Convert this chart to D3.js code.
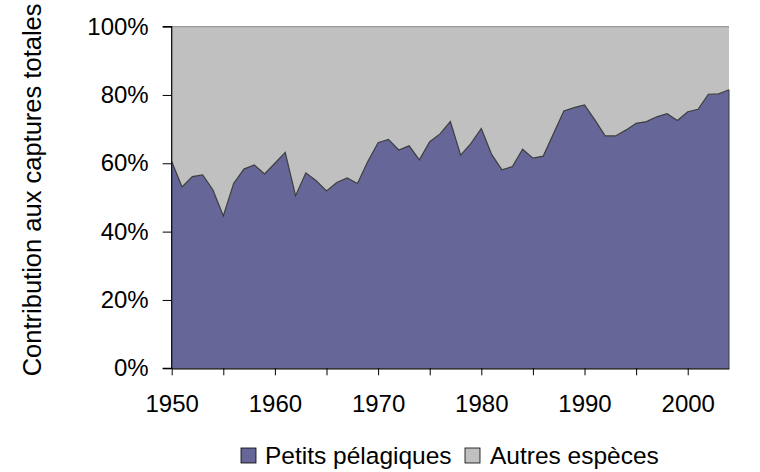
<!DOCTYPE html>
<html>
<head>
<meta charset="utf-8">
<script src="https://cdn.jsdelivr.net/npm/d3@7"></script>
<style>
  html, body { margin: 0; padding: 0; background: #fff; }
  svg { display: block; }
  text { font-family: "Liberation Sans", Arial, sans-serif; fill: #000; }
</style>
</head>
<body>
<svg id="chart" width="760" height="472"></svg>
<script>
const years = [1950,1951,1952,1953,1954,1955,1956,1957,1958,1959,
  1960,1961,1962,1963,1964,1965,1966,1967,1968,1969,
  1970,1971,1972,1973,1974,1975,1976,1977,1978,1979,
  1980,1981,1982,1983,1984,1985,1986,1987,1988,1989,
  1990,1991,1992,1993,1994,1995,1996,1997,1998,1999,
  2000,2001,2002,2003,2004];
const petitsPelagiques = [60.5,53.1,56.1,56.6,52.2,44.6,54.1,58.3,59.5,56.9,
  60.0,63.2,50.5,57.2,54.9,51.9,54.4,55.7,54.1,60.5,
  66.0,67.0,63.9,65.1,61.0,66.3,68.6,72.2,62.4,65.8,
  70.2,62.6,58.1,59.0,64.1,61.5,62.1,68.7,75.3,76.3,
  77.1,72.7,68.0,68.0,69.7,71.7,72.2,73.6,74.5,72.5,
  75.1,75.8,80.2,80.3,81.5];
const autresEspeces = [39.5,46.9,43.9,43.4,47.8,55.4,45.9,41.7,40.5,43.1,
  40.0,36.8,49.5,42.8,45.1,48.1,45.6,44.3,45.9,39.5,
  34.0,33.0,36.1,34.9,39.0,33.7,31.4,27.8,37.6,34.2,
  29.8,37.4,41.9,41.0,35.9,38.5,37.9,31.3,24.7,23.7,
  22.9,27.3,32.0,32.0,30.3,28.3,27.8,26.4,25.5,27.5,
  24.9,24.2,19.8,19.7,18.5];
const seriesNames = ["Petits pélagiques", "Autres espèces"];
const seriesColors = ["#666699", "#C0C0C0"];
const yTicks = [0, 20, 40, 60, 80, 100];
const xTickYears = [1950,1955,1960,1965,1970,1975,1980,1985,1990,1995,2000];
const xLabelYears = [1950,1960,1970,1980,1990,2000];
const yTitle = "Contribution aux captures totales";

const svg = d3.select("#chart");
const x = d3.scaleLinear().domain([1950, 2004]).range([171.7, 729]);
const y = d3.scaleLinear().domain([0, 100]).range([368.3, 26.6]);

const table = years.map((yr, i) => ({year: yr, p: petitsPelagiques[i], a: autresEspeces[i]}));
const stack = d3.stack().keys(["p", "a"]);
const stacked = stack(table);

const area = d3.area()
  .x(d => x(d.data.year))
  .y0(d => y(d[0]))
  .y1(d => y(d[1]));

svg.selectAll("path.area")
  .data(stacked)
  .join("path")
  .attr("class", "area")
  .attr("d", area)
  .attr("fill", (d, i) => seriesColors[i])
  .attr("stroke", "none");

// series top edges
const line = d3.line().x(d => x(d.data.year)).y(d => y(d[1]));
svg.append("path")
  .attr("d", line(stacked[0]))
  .attr("fill", "none")
  .attr("stroke", "#3c3c3c")
  .attr("stroke-width", 1.2);
svg.append("path")
  .attr("d", line(stacked[1]))
  .attr("fill", "none")
  .attr("stroke", "#9a9a9a")
  .attr("stroke-width", 1.2);
// right edge of purple area
svg.append("line")
  .attr("x1", x(2004)).attr("x2", x(2004))
  .attr("y1", y(0)).attr("y2", y(petitsPelagiques[petitsPelagiques.length - 1]))
  .attr("stroke", "#3c3c3c").attr("stroke-width", 1);

// Y axis
const yAxis = d3.axisLeft(y)
  .tickValues(yTicks)
  .tickSize(9)
  .tickPadding(14)
  .tickFormat(d => d + "%");
const gy = svg.append("g").attr("transform", `translate(${x(1950)},0)`).call(yAxis);
gy.select(".domain").attr("stroke", "#000").attr("stroke-width", 1.2);
gy.selectAll(".tick line").attr("stroke", "#000");
gy.selectAll(".tick text")
  .style("font-family", "'Liberation Sans', Arial, sans-serif")
  .style("font-size", "24px")
  .attr("fill", "#000");
gy.select(".domain").attr("d", `M-9,${y(100)}H0V${y(0)}H-9`);

// X axis
const xAxis = d3.axisBottom(x)
  .tickValues(xTickYears)
  .tickSize(7)
  .tickSizeOuter(0)
  .tickPadding(20)
  .tickFormat(d => xLabelYears.includes(d) ? String(d) : "");
const gx = svg.append("g").attr("transform", `translate(0,${y(0)})`).call(xAxis);
gx.select(".domain").attr("stroke", "#000").attr("stroke-width", 1.2);
gx.selectAll(".tick line").attr("stroke", "#000");
gx.selectAll(".tick text")
  .style("font-family", "'Liberation Sans', Arial, sans-serif")
  .style("font-size", "24px")
  .attr("fill", "#000");

// Y title
svg.append("text")
  .attr("transform", `translate(41,${y(0) + 8}) rotate(-90)`)
  .attr("text-anchor", "start")
  .style("font-size", "25.5px")
  .text(yTitle);

// Legend
const legendItems = [
  {name: seriesNames[0], color: seriesColors[0], x: 241, tx: 265},
  {name: seriesNames[1], color: seriesColors[1], x: 465, tx: 490}
];
const lg = svg.append("g");
legendItems.forEach(it => {
  lg.append("rect")
    .attr("x", it.x).attr("y", 448)
    .attr("width", 15).attr("height", 15)
    .attr("fill", it.color)
    .attr("stroke", "#000").attr("stroke-width", 0.8);
  lg.append("text")
    .attr("x", it.tx).attr("y", 464)
    .style("font-size", "24.5px")
    .text(it.name);
});
</script>
</body>
</html>
